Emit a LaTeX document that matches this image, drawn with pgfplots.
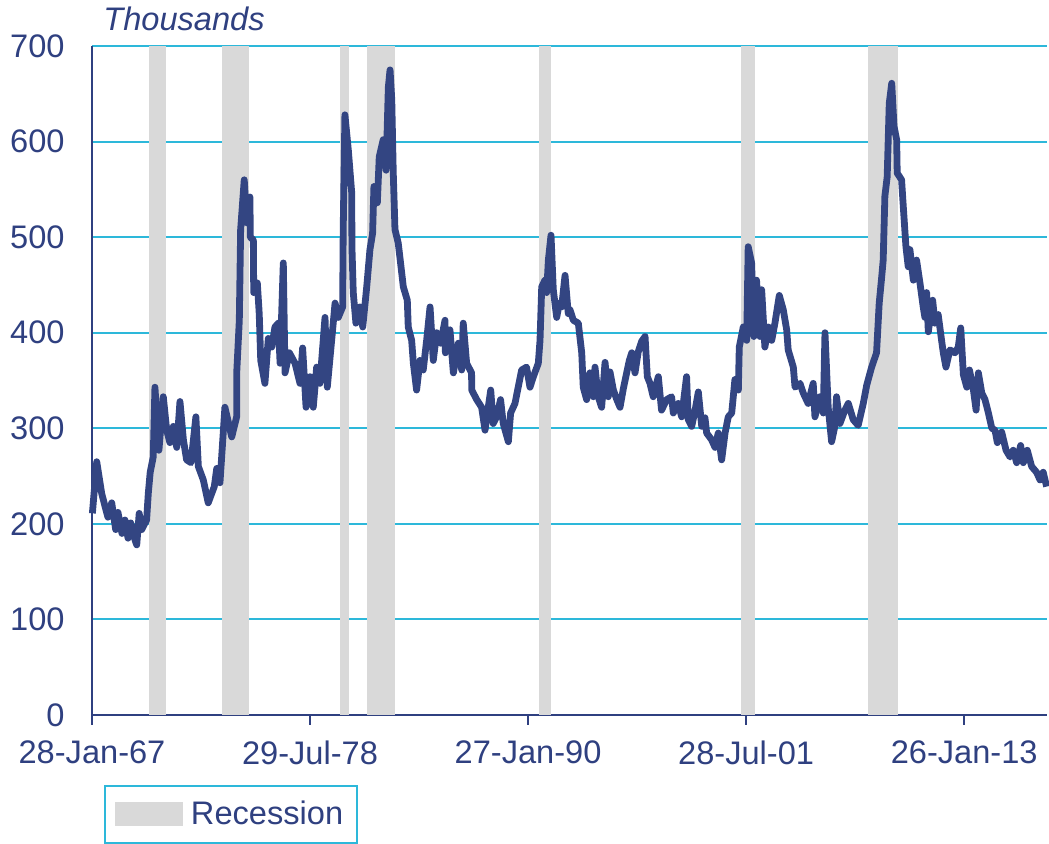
\documentclass[border=0pt]{standalone}
\usepackage{fontspec}
\setmainfont{Liberation Sans}
\usepackage{pgfplots}
\pgfplotsset{compat=1.18}
\usepackage{pgfplotstable}
\definecolor{navy}{RGB}{47,64,128}
\definecolor{linenavy}{RGB}{51,69,130}
\definecolor{gridcyan}{RGB}{45,184,218}
\definecolor{recgray}{RGB}{217,217,217}
\newcommand{\lblfont}{\fontsize{16.3}{19.5}\selectfont}
\pgfplotstableread{
year value
1967.09 211
1967.32 265
1967.58 232
1967.76 218
1967.91 207
1968.11 222
1968.32 194
1968.44 212
1968.65 190
1968.81 204
1968.97 185
1969.11 201
1969.34 183
1969.43 178
1969.56 211
1969.69 194
1969.95 204
1970.04 232
1970.14 254
1970.30 270
1970.39 343
1970.60 277
1970.83 333
1971.01 298
1971.18 285
1971.36 302
1971.54 280
1971.71 328
1971.89 288
1972.06 267
1972.29 264
1972.55 312
1972.68 260
1972.94 246
1973.20 222
1973.52 239
1973.65 258
1973.82 243
1974.08 322
1974.44 291
1974.70 312
1974.71 361
1974.84 413
1974.91 508
1975.10 560
1975.23 515
1975.40 542
1975.42 500
1975.58 497
1975.60 442
1975.79 452
1975.89 420
1975.97 371
1976.19 347
1976.37 394
1976.55 385
1976.72 406
1976.90 410
1976.99 368
1977.16 473
1977.25 358
1977.48 379
1977.78 368
1978.04 347
1978.18 384
1978.36 322
1978.57 354
1978.74 322
1978.92 364
1979.09 347
1979.36 416
1979.48 343
1979.71 392
1979.89 431
1980.06 416
1980.29 427
1980.32 508
1980.41 628
1980.59 591
1980.77 546
1980.78 490
1980.85 442
1980.99 410
1981.20 427
1981.35 406
1981.56 448
1981.73 487
1981.87 504
1981.94 553
1982.12 536
1982.22 584
1982.43 602
1982.58 570
1982.70 657
1982.79 675
1982.88 644
1982.96 567
1983.05 508
1983.22 494
1983.31 479
1983.49 448
1983.70 434
1983.75 406
1983.93 392
1984.02 368
1984.19 340
1984.37 371
1984.54 361
1984.72 392
1984.90 427
1985.07 371
1985.25 400
1985.46 389
1985.69 413
1985.71 379
1985.95 403
1986.13 358
1986.39 389
1986.57 361
1986.65 410
1986.83 368
1987.09 358
1987.10 340
1987.36 330
1987.62 322
1987.80 298
1987.97 322
1988.10 340
1988.23 305
1988.41 312
1988.62 330
1988.76 305
1989.03 286
1989.15 316
1989.38 326
1989.55 343
1989.73 361
1989.99 364
1990.17 343
1990.35 354
1990.61 368
1990.70 392
1990.79 448
1990.96 455
1991.05 442
1991.14 476
1991.28 502
1991.40 445
1991.58 416
1991.72 431
1991.84 427
1992.02 460
1992.19 420
1992.28 424
1992.46 413
1992.72 410
1992.90 379
1992.98 343
1993.16 330
1993.33 358
1993.51 333
1993.60 364
1993.77 333
1993.95 322
1994.13 369
1994.30 333
1994.39 359
1994.57 340
1994.75 330
1994.92 322
1995.10 342
1995.27 358
1995.41 371
1995.54 379
1995.71 358
1995.88 380
1996.06 391
1996.24 396
1996.36 354
1996.50 347
1996.67 333
1996.94 354
1997.11 319
1997.38 330
1997.64 333
1997.73 316
1997.99 326
1998.17 312
1998.43 354
1998.52 309
1998.70 302
1998.88 319
1999.05 338
1999.23 302
1999.40 311
1999.49 295
1999.75 288
1999.93 280
2000.10 295
2000.28 267
2000.46 295
2000.63 312
2000.81 316
2000.98 351
2001.16 340
2001.21 385
2001.42 406
2001.60 392
2001.68 490
2001.86 473
2001.98 396
2002.12 455
2002.30 396
2002.39 445
2002.56 385
2002.74 406
2002.92 392
2003.09 410
2003.32 439
2003.53 424
2003.71 403
2003.79 382
2004.06 364
2004.15 343
2004.41 347
2004.58 337
2004.84 326
2005.11 347
2005.20 312
2005.46 333
2005.64 316
2005.73 400
2005.90 322
2006.08 286
2006.25 302
2006.34 333
2006.52 305
2006.78 319
2006.96 326
2007.22 309
2007.48 303
2007.75 326
2007.93 345
2008.19 364
2008.45 379
2008.59 431
2008.72 458
2008.80 476
2008.89 543
2009.01 563
2009.12 640
2009.25 661
2009.37 616
2009.51 602
2009.54 567
2009.77 560
2009.86 532
2010.00 490
2010.12 469
2010.21 487
2010.39 455
2010.56 476
2010.74 452
2010.91 427
2011.00 416
2011.09 442
2011.18 401
2011.41 434
2011.53 410
2011.70 419
2011.88 392
2011.97 379
2012.11 364
2012.32 382
2012.59 379
2012.76 385
2012.89 405
2013.03 356
2013.21 343
2013.35 361
2013.56 340
2013.70 319
2013.82 358
2014.00 337
2014.17 330
2014.35 316
2014.53 300
2014.70 298
2014.82 285
2015.05 296
2015.28 277
2015.49 270
2015.66 277
2015.84 264
2016.05 282
2016.19 264
2016.40 277
2016.63 260
2016.89 254
2017.07 246
2017.24 254
2017.42 239
}\claims
\begin{document}
\begin{tikzpicture}
\begin{axis}[
  scale only axis,
  width=477.5pt, height=334.5pt,
  xmin=1967.07, xmax=2017.44,
  ymin=0, ymax=700,
  axis x line*=bottom, axis y line*=left,
  axis line style={navy, line width=0.75pt, -},
  xtick={1967.07,1978.57,1990.07,2001.57,2013.07},
  xticklabels={28-Jan-67,29-Jul-78,27-Jan-90,28-Jul-01,26-Jan-13},
  ytick={0,100,...,700},
  tick align=outside,
  major tick length=5pt,
  xtick style={navy, line width=0.75pt},
  ytick style={draw=none},
  ymajorgrids,
  grid style={gridcyan, line width=1pt},
  /pgf/number format/assume math mode=true,
  tick label style={font=\lblfont, text=navy},
  yticklabel style={anchor=east, inner sep=0pt, xshift=-8.5pt},
  xticklabel style={anchor=north, inner sep=0pt, yshift=-7.5pt},
  legend style={at={(0,0)}, anchor=north west, xshift=6pt, yshift=-35pt,
    draw=gridcyan, line width=1pt, inner xsep=5pt, inner ysep=5.5pt,
    font=\lblfont, text=navy},
  legend cell align=left,
  legend image code/.code={\fill[recgray] (0pt,-6pt) rectangle (34pt,6pt);},
  clip=false,
]
\addplot[fill=recgray, draw=none] coordinates {(1970.08,700) (1970.97,700)} \closedcycle;
\addlegendentry{\hspace{2pt}Recession}
\addplot[fill=recgray, draw=none, forget plot] coordinates {(1973.93,700) (1975.35,700)} \closedcycle;
\addplot[fill=recgray, draw=none, forget plot] coordinates {(1980.15,700) (1980.62,700)} \closedcycle;
\addplot[fill=recgray, draw=none, forget plot] coordinates {(1981.57,700) (1983.05,700)} \closedcycle;
\addplot[fill=recgray, draw=none, forget plot] coordinates {(1990.65,700) (1991.28,700)} \closedcycle;
\addplot[fill=recgray, draw=none, forget plot] coordinates {(2001.30,700) (2002.04,700)} \closedcycle;
\addplot[fill=recgray, draw=none, forget plot] coordinates {(2008.00,700) (2009.58,700)} \closedcycle;
\addplot[linenavy, line width=3.4pt, line join=round, no markers, forget plot] table[x=year, y=value] {\claims};
\node[anchor=base west, inner sep=0pt, font=\lblfont\itshape, text=navy] at ([xshift=5.5pt, yshift=8pt]rel axis cs:0,1) {Thousands};
\end{axis}
\pgfresetboundingbox
\path (-46pt,-64.5pt) rectangle (478.5pt,357.5pt);
\end{tikzpicture}
\end{document}
